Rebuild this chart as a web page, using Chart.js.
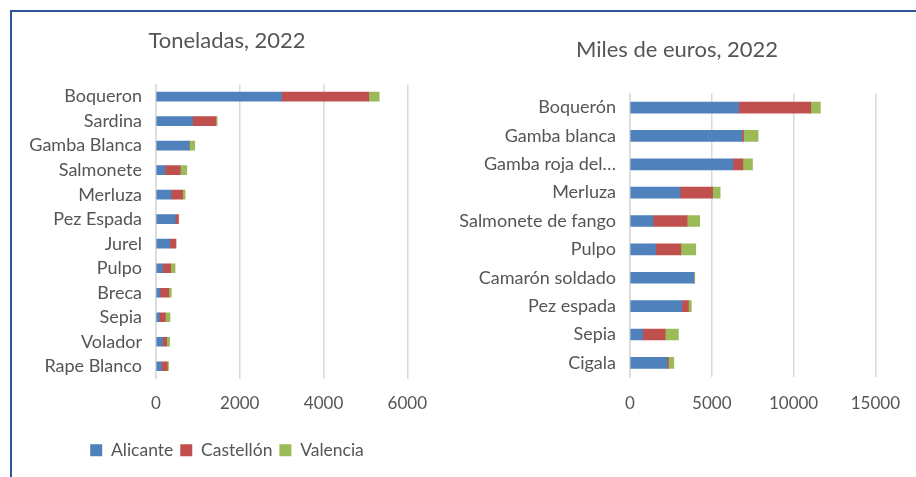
<!DOCTYPE html>
<html>
<head>
<meta charset="utf-8">
<script src="https://cdn.jsdelivr.net/npm/chart.js@4/dist/chart.umd.min.js"></script>
<style>
  html, body { margin: 0; padding: 0; background: #ffffff; }
  body { width: 916px; height: 477px; position: relative; overflow: hidden; }
  .frame { position: absolute; left: 10px; top: 10px; width: 906px; height: 467px;
           border-top: 2px solid #2E5597; border-left: 2px solid #2E5597; box-sizing: border-box; }
  .panel { position: absolute; top: 12px; height: 465px; }
  #left { left: 12px; width: 430px; }
  #right { left: 456px; width: 460px; }
</style>
</head>
<body>
<div class="frame"></div>
<div class="panel" id="left"><canvas id="cTon"></canvas></div>
<div class="panel" id="right"><canvas id="cEur"></canvas></div>
<script>
// Capturas por especie y provincia, 2022
const toneladasCategorias = ['Boqueron', 'Sardina', 'Gamba Blanca', 'Salmonete', 'Merluza', 'Pez Espada',
                             'Jurel', 'Pulpo', 'Breca', 'Sepia', 'Volador', 'Rape Blanco'];
const toneladasAlicante   = [3000, 870, 790, 210, 365, 460, 330, 155, 95, 80, 155, 130];
const toneladasCastellon  = [2080, 560, 0, 370, 270, 75, 145, 195, 210, 145, 100, 140];
const toneladasValencia   = [250, 30, 135, 155, 60, 0, 0, 105, 60, 110, 70, 30];
const toneladasTicks      = [0, 2000, 4000, 6000];

const eurosCategorias = ['Boquerón', 'Gamba blanca', 'Gamba roja del…', 'Merluza', 'Salmonete de fango',
                         'Pulpo', 'Camarón soldado', 'Pez espada', 'Sepia', 'Cigala'];
const eurosAlicante   = [6650, 6840, 6290, 3060, 1400, 1560, 3900, 3170, 770, 2270];
const eurosCastellon  = [4400, 100, 610, 1990, 2090, 1550, 0, 400, 1380, 80];
const eurosValencia   = [590, 890, 590, 460, 770, 910, 60, 180, 810, 330];
const eurosTicks      = [0, 5000, 10000, 15000];

const provincias = ['Alicante', 'Castellón', 'Valencia'];
const colores = ['#4F81BD', '#C0504D', '#9BBB59'];

const FONT = 'Lato, "Open Sans", sans-serif';
const TEXT = '#555555';
const GRID = '#D9D9D9';

function datasets(series, thickness) {
  return series.map((vals, i) => ({
    label: provincias[i],
    data: vals,
    xAxisID: 'x',
    yAxisID: 'y',
    backgroundColor: colores[i],
    borderWidth: 0,
    barThickness: thickness
  }));
}

function options(cfg) {
  return {
    indexAxis: 'y',
    responsive: true,
    maintainAspectRatio: false,
    animation: false,
    events: [],
    layout: { padding: cfg.padding },
    plugins: {
      title: {
        display: true,
        text: cfg.title,
        color: TEXT,
        font: { family: FONT, size: 22, weight: 'normal' },
        padding: cfg.titlePadding
      },
      legend: cfg.legend,
      tooltip: { enabled: false }
    },
    scales: {
      x: {
        stacked: true,
        min: cfg.ticks[0],
        max: cfg.ticks[cfg.ticks.length - 1],
        afterBuildTicks: (scale) => { scale.ticks = cfg.ticks.map(v => ({ value: v })); },
        afterFit: (scale) => { scale.height = cfg.xHeight; },
        grid: { color: GRID, lineWidth: 1.5, drawTicks: false },
        border: { display: false },
        ticks: {
          color: TEXT,
          padding: cfg.xPad,
          font: { family: FONT, size: 17 },
          callback: (v) => String(v)
        }
      },
      y: {
        stacked: true,
        afterFit: (scale) => { scale.width = cfg.yWidth; },
        grid: { display: false, drawTicks: false },
        border: { display: true, color: GRID, width: 1.5 },
        ticks: {
          color: TEXT,
          padding: cfg.yPad,
          autoSkip: false,
          font: { family: FONT, size: 18 }
        }
      },
      // empty spacer on the right so the title and legend sit centred over the whole panel
      ySpacer: {
        type: 'linear',
        position: 'right',
        afterFit: (scale) => { scale.width = cfg.spacer; },
        grid: { display: false, drawTicks: false },
        border: { display: false },
        ticks: { display: false }
      }
    }
  };
}

new Chart(document.getElementById('cTon'), {
  type: 'bar',
  data: {
    labels: toneladasCategorias,
    datasets: datasets([toneladasAlicante, toneladasCastellon, toneladasValencia], 9)
  },
  options: options({
    title: 'Toneladas, 2022',
    ticks: toneladasTicks,
    padding: { left: 0, right: 0, top: 0, bottom: 8 },
    titlePadding: { top: 16, bottom: 30 },
    yWidth: 144,
    yPad: 14,
    spacer: 28,
    xHeight: 56,
    xPad: 15,
    legend: {
      display: true,
      position: 'bottom',
      labels: {
        color: TEXT,
        boxWidth: 12,
        boxHeight: 12,
        padding: 7,
        font: { family: FONT, size: 17.5 }
      }
    }
  })
});

new Chart(document.getElementById('cEur'), {
  type: 'bar',
  data: {
    labels: eurosCategorias,
    datasets: datasets([eurosAlicante, eurosCastellon, eurosValencia], 11)
  },
  options: options({
    title: 'Miles de euros, 2022',
    ticks: eurosTicks,
    padding: { left: 0, right: 18, top: 0, bottom: 40 },
    titlePadding: { top: 25, bottom: 30 },
    yWidth: 174,
    yPad: 14,
    spacer: 22,
    xHeight: 60,
    xPad: 16,
    legend: { display: false }
  })
});
</script>
</body>
</html>
